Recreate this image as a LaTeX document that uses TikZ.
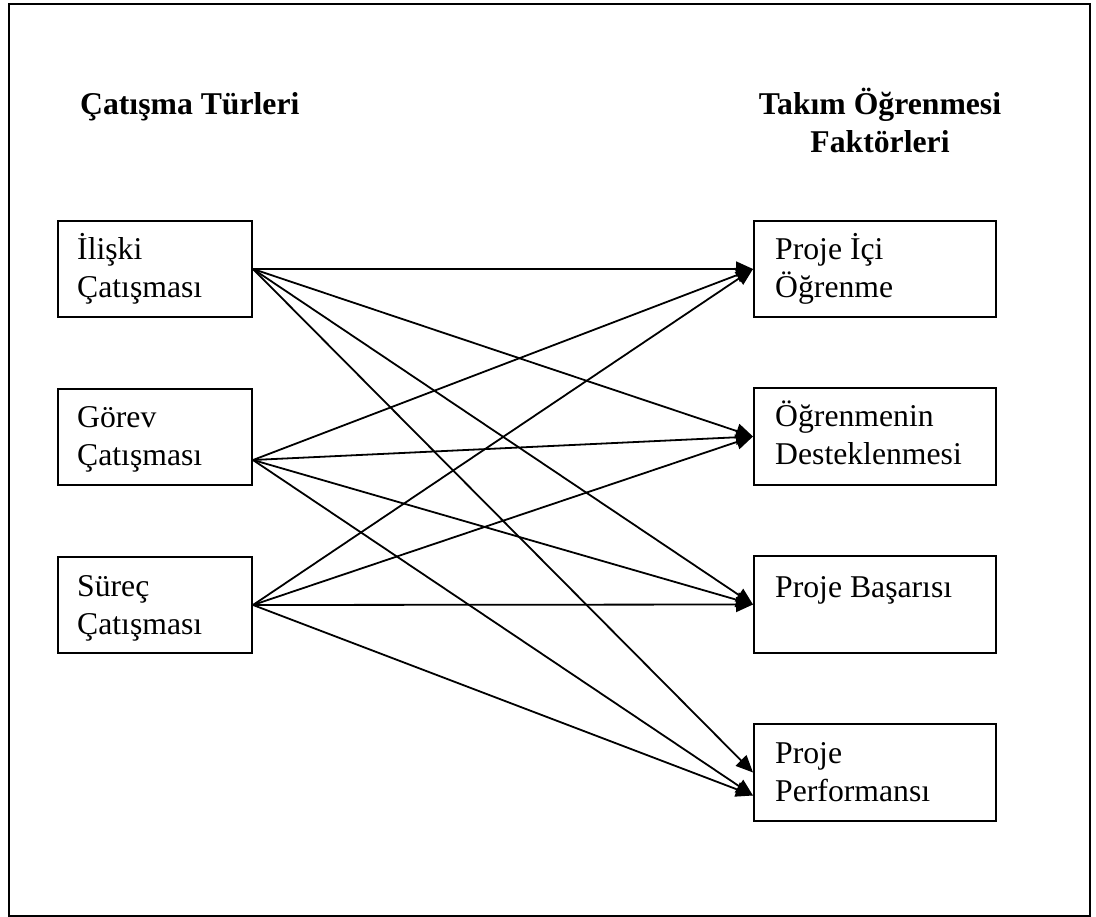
\documentclass[tikz,border=0pt]{standalone}
\usepackage{fontspec}
\setmainfont{Liberation Serif}
\usetikzlibrary{arrows.meta,calc}
\newcommand\twolines[2]{\parbox[t]{235pt}{\raggedright #1\\#2}}
\begin{document}
\begin{tikzpicture}[x=1pt,y=-1pt,
  txt/.style={anchor=base west,inner sep=0pt,font=\fontsize{31.7}{38}\selectfont},
  ttl/.style={inner sep=0pt,font=\fontsize{31.7}{38}\selectfont\bfseries},
  lbox/.style={draw,line width=2pt,inner sep=0pt,anchor=north west,minimum width=194pt,minimum height=96pt},
  rbox/.style={draw,line width=2pt,inner sep=0pt,anchor=north west,minimum width=242pt,minimum height=96pt},
  link/.style={line width=1.8pt,-{Triangle[length=17pt,width=15pt]}}]
\useasboundingbox (0,0) rectangle (1096,917);
\node[draw,line width=2pt,inner sep=0pt,anchor=north west,minimum width=1081pt,minimum height=912pt] (frame) at (8,3) {};
% titles
\node[ttl,anchor=base west] (t1) at (80,115) {Çatışma Türleri};
\node[ttl,anchor=base] (t2) at (880,115) {Takım Öğrenmesi};
\node[ttl,anchor=base] (t3) at (880,153) {Faktörleri};
% left boxes
\node[lbox] (a1) at (57,220) {};
\node[lbox] (a2) at (57,388) {};
\node[lbox] (a3) at (57,556) {};
\node[txt] (la1) at (77,260) {\twolines{İlişki}{Çatışması}};
\node[txt] (la2) at (77,428) {\twolines{Görev}{Çatışması}};
\node[txt] (la3) at (77,596) {\twolines{Süreç}{Çatışması}};
% right boxes
\node[rbox] (b1) at (753,220) {};
\node[rbox,minimum height=97pt] (b2) at (753,387) {};
\node[rbox,minimum height=97pt] (b3) at (753,555) {};
\node[rbox,minimum height=97pt] (b4) at (753,723) {};
\node[txt] (lb1) at (775,260) {\twolines{Proje İçi}{Öğrenme}};
\node[txt] (lb2) at (775,427) {\twolines{Öğrenmenin}{Desteklenmesi}};
\node[txt] (lb3) at (775,597) {Proje Başarısı};
\node[txt] (lb4) at (775,763) {\twolines{Proje}{Performansı}};
% connector ends
\coordinate (s1) at (a1.east);
\coordinate (s2) at ($(a2.east)+(0,23)$);
\coordinate (s3) at (a3.east);
\coordinate (e4) at ($(b4.west)+(0,23)$);
% connectors
\draw[link] (s1) -- (b1.west);
\draw[link] (s1) -- (b2.west);
\draw[link] (s1) -- (b3.west);
\draw[link] (s1) -- (b4.west);
\draw[link] (s2) -- (b1.west);
\draw[link] (s2) -- (b2.west);
\draw[link] (s2) -- (b3.west);
\draw[link] (s2) -- (e4);
\draw[link] (s3) -- (b1.west);
\draw[link] (s3) -- (b2.west);
\draw[link] (s3) -- (b3.west);
\draw[link] (s3) -- (e4);
\end{tikzpicture}
\end{document}
